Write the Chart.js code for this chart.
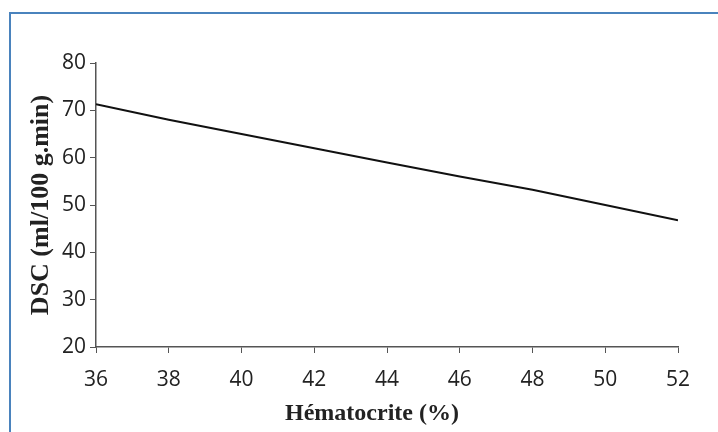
<!DOCTYPE html>
<html>
<head>
<meta charset="utf-8">
<script src="https://cdn.jsdelivr.net/npm/chart.js@4"></script>
<style>
    html, body { margin: 0; padding: 0; background: #fff; }
    #wrap { position: relative; width: 718px; height: 432px; overflow: hidden; }
    #frame {
        position: absolute; left: 9px; top: 12px; width: 760px; height: 480px;
        border-left: 2px solid #4a83bd; border-top: 2px solid #4a83bd;
    }
    canvas { position: absolute; left: 0; top: 0; }
</style>
</head>
<body>
<div id="wrap">
    <div id="frame"></div>
    <canvas id="dscChart" width="718" height="432"></canvas>
</div>
<script>
// Hematocrit (%) vs DSC (ml/100 g.min)
const hematocrit = [36, 38, 40, 42, 44, 46, 48, 50, 52];
const dscValues = [71.3, 68.0, 65.0, 62.0, 59.0, 56.0, 53.2, 50.0, 46.8];
const yTicks = [20, 30, 40, 50, 60, 70, 80];

const axisColor = '#555';
const tickFont = { family: 'Open Sans', size: 21 };
const xTitleFont = { family: 'Liberation Serif', size: 24, weight: 'bold' };
const yTitleFont = { family: 'Liberation Serif', size: 26, weight: 'bold' };

const ctx = document.getElementById('dscChart').getContext('2d');

new Chart(ctx, {
    type: 'line',
    data: {
        datasets: [{
            data: hematocrit.map((h, i) => ({ x: h, y: dscValues[i] })),
            borderColor: '#111',
            borderWidth: 2,
            pointRadius: 0,
            tension: 0,
            fill: false
        }]
    },
    options: {
        responsive: false,
        animation: false,
        layout: {
            padding: { left: 0, right: 40, top: 63, bottom: 0 }
        },
        plugins: {
            legend: { display: false },
            tooltip: { enabled: false }
        },
        scales: {
            x: {
                type: 'linear',
                min: 36,
                max: 52,
                ticks: { stepSize: 2, color: '#222', font: tickFont, padding: 14 },
                grid: { drawOnChartArea: false, drawTicks: true, tickLength: 6, color: axisColor },
                border: { color: axisColor, width: 1.5 },
                title: {
                    display: true,
                    // trailing spaces nudge the centred title a bit left, as in the original
                    text: 'Hématocrite (%)\u00a0\u00a0\u00a0\u00a0\u00a0',
                    color: '#222',
                    font: xTitleFont,
                    padding: { top: 0, bottom: 4 }
                },
                afterFit: (scale) => { scale.height = 85; }
            },
            y: {
                min: 20,
                max: 80,
                afterBuildTicks: (scale) => {
                    scale.ticks = yTicks.map(v => ({ value: v }));
                },
                ticks: { color: '#222', font: tickFont, padding: 4 },
                grid: { drawOnChartArea: false, drawTicks: true, tickLength: 6, color: axisColor },
                border: { color: axisColor, width: 1.5 },
                title: {
                    display: true,
                    text: 'DSC (ml/100 g.min)',
                    color: '#222',
                    font: yTitleFont,
                    padding: { top: 26, bottom: 0 }
                },
                afterFit: (scale) => { scale.width = 96; }
            }
        }
    }
});
</script>
</body>
</html>
